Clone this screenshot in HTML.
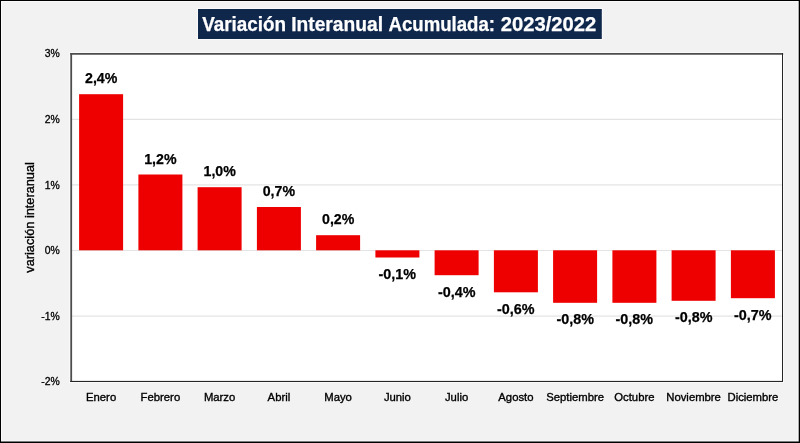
<!DOCTYPE html>
<html lang="es"><head><meta charset="utf-8"><title>Variación Interanual Acumulada: 2023/2022</title>
<style>
html,body{margin:0;padding:0;background:#f2f2f2;}
body{width:800px;height:443px;overflow:hidden;}
svg{display:block;font-family:"Liberation Sans",sans-serif;}
</style></head><body>
<svg width="800" height="443" viewBox="0 0 800 443">
<rect x="0" y="0" width="800" height="443" fill="#f2f2f2"/>
<rect x="69.2" y="52" width="714.8" height="331" fill="#fafafa"/>
<rect x="71.5" y="53.5" width="711.0" height="328.0" fill="#ffffff"/>
<line x1="71.5" x2="782.5" y1="119.30" y2="119.30" stroke="#e4e4e4" stroke-width="1.2"/>
<line x1="71.5" x2="782.5" y1="184.90" y2="184.90" stroke="#e4e4e4" stroke-width="1.2"/>
<line x1="71.5" x2="782.5" y1="250.50" y2="250.50" stroke="#e4e4e4" stroke-width="1.2"/>
<line x1="71.5" x2="782.5" y1="316.10" y2="316.10" stroke="#e4e4e4" stroke-width="1.2"/>
<rect x="79.1" y="94.2" width="44" height="156.1" fill="#ee0000"/>
<text x="85.0" y="83.4" textLength="32.3" lengthAdjust="spacingAndGlyphs" font-size="15" font-weight="700" fill="#000" stroke="#000" stroke-width="0.25">2,4%</text>
<text x="101.1" y="401.2" text-anchor="middle" font-size="11.3" fill="#000" stroke="#000" stroke-width="0.35">Enero</text>
<rect x="138.4" y="174.5" width="44" height="75.8" fill="#ee0000"/>
<text x="144.2" y="163.7" textLength="32.3" lengthAdjust="spacingAndGlyphs" font-size="15" font-weight="700" fill="#000" stroke="#000" stroke-width="0.25">1,2%</text>
<text x="160.4" y="401.2" text-anchor="middle" font-size="11.3" fill="#000" stroke="#000" stroke-width="0.35">Febrero</text>
<rect x="197.6" y="187.2" width="44" height="63.1" fill="#ee0000"/>
<text x="203.5" y="176.4" textLength="32.3" lengthAdjust="spacingAndGlyphs" font-size="15" font-weight="700" fill="#000" stroke="#000" stroke-width="0.25">1,0%</text>
<text x="219.6" y="401.2" text-anchor="middle" font-size="11.3" fill="#000" stroke="#000" stroke-width="0.35">Marzo</text>
<rect x="256.9" y="207.0" width="44" height="43.3" fill="#ee0000"/>
<text x="262.7" y="196.2" textLength="32.3" lengthAdjust="spacingAndGlyphs" font-size="15" font-weight="700" fill="#000" stroke="#000" stroke-width="0.25">0,7%</text>
<text x="278.9" y="401.2" text-anchor="middle" font-size="11.3" fill="#000" stroke="#000" stroke-width="0.35">Abril</text>
<rect x="316.1" y="235.2" width="44" height="15.1" fill="#ee0000"/>
<text x="322.0" y="224.4" textLength="32.3" lengthAdjust="spacingAndGlyphs" font-size="15" font-weight="700" fill="#000" stroke="#000" stroke-width="0.25">0,2%</text>
<text x="338.1" y="401.2" text-anchor="middle" font-size="11.3" fill="#000" stroke="#000" stroke-width="0.35">Mayo</text>
<rect x="375.4" y="250.3" width="44" height="7.2" fill="#ee0000"/>
<text x="378.6" y="279.0" textLength="37.5" lengthAdjust="spacingAndGlyphs" font-size="15" font-weight="700" fill="#000" stroke="#000" stroke-width="0.25">-0,1%</text>
<text x="397.4" y="401.2" text-anchor="middle" font-size="11.3" fill="#000" stroke="#000" stroke-width="0.35">Junio</text>
<rect x="434.6" y="250.3" width="44" height="24.9" fill="#ee0000"/>
<text x="437.9" y="296.7" textLength="37.5" lengthAdjust="spacingAndGlyphs" font-size="15" font-weight="700" fill="#000" stroke="#000" stroke-width="0.25">-0,4%</text>
<text x="456.6" y="401.2" text-anchor="middle" font-size="11.3" fill="#000" stroke="#000" stroke-width="0.35">Julio</text>
<rect x="493.9" y="250.3" width="44" height="42.0" fill="#ee0000"/>
<text x="497.1" y="313.8" textLength="37.5" lengthAdjust="spacingAndGlyphs" font-size="15" font-weight="700" fill="#000" stroke="#000" stroke-width="0.25">-0,6%</text>
<text x="515.9" y="401.2" text-anchor="middle" font-size="11.3" fill="#000" stroke="#000" stroke-width="0.35">Agosto</text>
<rect x="553.1" y="250.3" width="44" height="52.5" fill="#ee0000"/>
<text x="556.4" y="324.3" textLength="37.5" lengthAdjust="spacingAndGlyphs" font-size="15" font-weight="700" fill="#000" stroke="#000" stroke-width="0.25">-0,8%</text>
<text x="575.1" y="401.2" text-anchor="middle" font-size="11.3" fill="#000" stroke="#000" stroke-width="0.35">Septiembre</text>
<rect x="612.4" y="250.3" width="44" height="52.5" fill="#ee0000"/>
<text x="615.6" y="324.3" textLength="37.5" lengthAdjust="spacingAndGlyphs" font-size="15" font-weight="700" fill="#000" stroke="#000" stroke-width="0.25">-0,8%</text>
<text x="634.4" y="401.2" text-anchor="middle" font-size="11.3" fill="#000" stroke="#000" stroke-width="0.35">Octubre</text>
<rect x="671.6" y="250.3" width="44" height="50.5" fill="#ee0000"/>
<text x="674.9" y="322.3" textLength="37.5" lengthAdjust="spacingAndGlyphs" font-size="15" font-weight="700" fill="#000" stroke="#000" stroke-width="0.25">-0,8%</text>
<text x="693.6" y="401.2" text-anchor="middle" font-size="11.3" fill="#000" stroke="#000" stroke-width="0.35">Noviembre</text>
<rect x="730.9" y="250.3" width="44" height="47.9" fill="#ee0000"/>
<text x="734.1" y="319.7" textLength="37.5" lengthAdjust="spacingAndGlyphs" font-size="15" font-weight="700" fill="#000" stroke="#000" stroke-width="0.25">-0,7%</text>
<text x="752.9" y="401.2" text-anchor="middle" font-size="11.3" fill="#000" stroke="#000" stroke-width="0.35">Diciembre</text>
<rect x="70.2" y="53" width="713" height="1.75" fill="#4d4d4d"/>
<rect x="70.3" y="53" width="1.8" height="329" fill="#4d4d4d"/>
<rect x="782" y="53" width="1" height="329" fill="#262626"/>
<rect x="70.2" y="380.9" width="712.8" height="1.1" fill="#262626"/>
<text x="59.8" y="57.4" text-anchor="end" font-size="10.4" fill="#000" stroke="#000" stroke-width="0.3">3%</text>
<text x="59.8" y="123.0" text-anchor="end" font-size="10.4" fill="#000" stroke="#000" stroke-width="0.3">2%</text>
<text x="59.8" y="188.6" text-anchor="end" font-size="10.4" fill="#000" stroke="#000" stroke-width="0.3">1%</text>
<text x="59.8" y="254.2" text-anchor="end" font-size="10.4" fill="#000" stroke="#000" stroke-width="0.3">0%</text>
<text x="59.8" y="319.8" text-anchor="end" font-size="10.4" fill="#000" stroke="#000" stroke-width="0.3">-1%</text>
<text x="59.8" y="385.4" text-anchor="end" font-size="10.4" fill="#000" stroke="#000" stroke-width="0.3">-2%</text>
<text transform="translate(34,217.4) rotate(-90)" text-anchor="middle" font-size="12.75" fill="#000" stroke="#000" stroke-width="0.35">variación interanual</text>
<rect x="197" y="8" width="405.8" height="32" fill="#fafafa"/>
<rect x="198" y="9" width="403.8" height="30" fill="#10274c"/>
<text y="31.3" font-size="19.5" font-weight="700" fill="#fff" stroke="#fff" stroke-width="0.25"><tspan x="202.2" textLength="83.8" lengthAdjust="spacingAndGlyphs">Variación</tspan> <tspan x="291.2" textLength="91.8" lengthAdjust="spacingAndGlyphs">Interanual</tspan> <tspan x="388.5" textLength="106.5" lengthAdjust="spacingAndGlyphs">Acumulada:</tspan> <tspan x="500.7" textLength="95.5" lengthAdjust="spacingAndGlyphs">2023/2022</tspan></text>
<rect x="1" y="1" width="797.7" height="1" fill="#fafafa"/><rect x="1" y="1" width="1" height="440.5" fill="#fafafa"/><rect x="797.7" y="1" width="1" height="440.5" fill="#fafafa"/><rect x="1" y="440.5" width="797.7" height="1" fill="#fafafa"/>
<rect x="0" y="0" width="800" height="1" fill="#000"/><rect x="0" y="0" width="1" height="443" fill="#000"/><rect x="798.7" y="0" width="1.3" height="443" fill="#000"/><rect x="0" y="441.5" width="800" height="1.5" fill="#000"/>
</svg></body></html>
